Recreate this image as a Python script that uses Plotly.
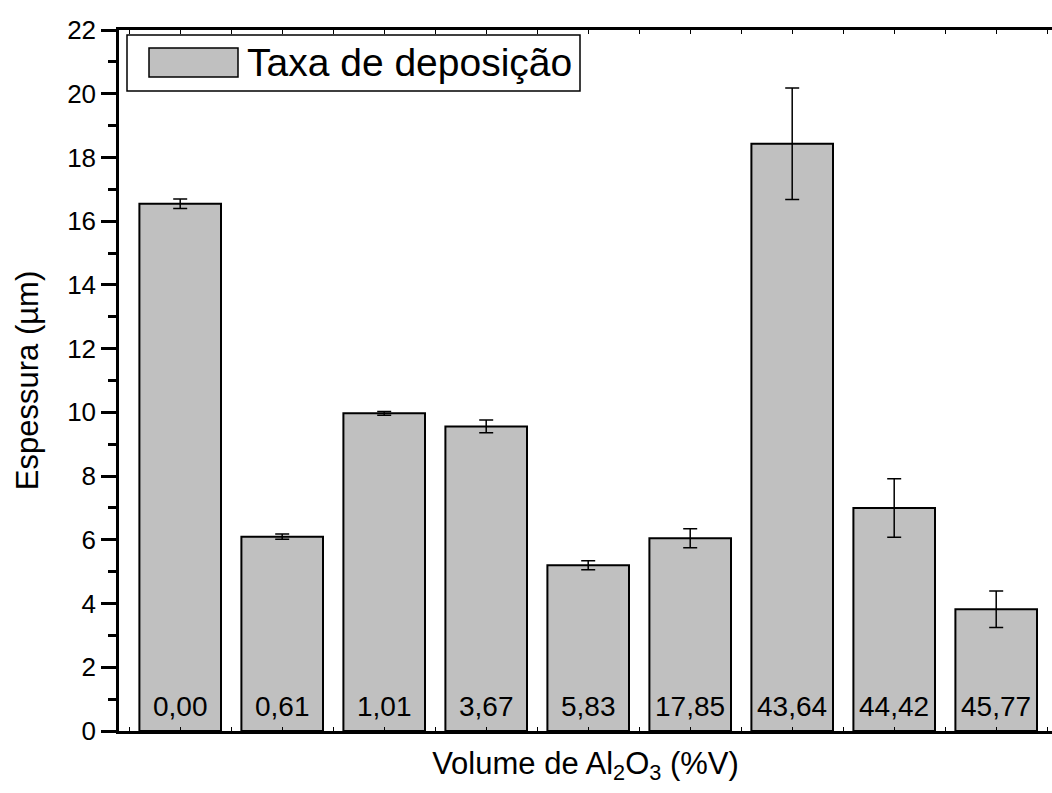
import plotly.graph_objects as go

categories = ["0,00", "0,61", "1,01", "3,67", "5,83", "17,85", "43,64", "44,42", "45,77"]
thickness = [16.55, 6.10, 9.97, 9.56, 5.20, 6.05, 18.43, 7.00, 3.82]
errors = [0.15, 0.08, 0.06, 0.20, 0.14, 0.30, 1.75, 0.92, 0.57]
legend_label = "Taxa de deposição"
y_ticks = list(range(0, 23, 2))

FONT = "Liberation Sans, Arial, sans-serif"
W, H = 1052, 793
ML, MR, MT, MB = 119, 0, 30, 62
PW, PH = W - ML - MR, H - MT - MB

xpos = list(range(len(categories)))

fig = go.Figure()
fig.add_trace(go.Bar(
    x=xpos, y=thickness, width=0.8,
    marker=dict(color="#C0C0C0", line=dict(color="black", width=2)),
    error_y=dict(type="data", array=errors, visible=True, color="black",
                 thickness=1.5, width=7),
    name=legend_label, showlegend=False,
))

# labels inside bars at the bottom
for xi, lab in zip(xpos, categories):
    fig.add_annotation(x=xi, y=0, xref="x", yref="y", text=lab, showarrow=False,
                       yanchor="bottom", yshift=7,
                       font=dict(family=FONT, size=28, color="black"))

# manual legend (paper coordinates from pixel layout)
def px_x(p):
    return (p - ML) / PW

def px_y(p):
    return (H - MB - p) / PH

fig.add_shape(type="rect", xref="paper", yref="paper",
              x0=px_x(127), x1=px_x(580), y0=px_y(91), y1=px_y(35),
              line=dict(color="black", width=1.5), fillcolor="white", layer="above")
fig.add_shape(type="rect", xref="paper", yref="paper",
              x0=px_x(149), x1=px_x(238), y0=px_y(77), y1=px_y(48),
              line=dict(color="black", width=1.5), fillcolor="#C0C0C0", layer="above")
fig.add_annotation(xref="paper", yref="paper", x=px_x(245), y=px_y(62),
                   xanchor="left", yanchor="middle", showarrow=False,
                   text=legend_label, font=dict(family=FONT, size=39, color="black"))

fig.update_layout(
    width=W, height=H,
    margin=dict(l=ML, r=MR, t=MT, b=MB),
    plot_bgcolor="white", paper_bgcolor="white",
    font=dict(family=FONT, color="black"),
    bargap=0.2,
)
fig.update_xaxes(
    type="linear", range=[-0.6, -0.6 + PW / 102.0],
    showline=True, linecolor="black", linewidth=2.5, mirror="ticks",
    ticks="inside", ticklen=4, tickwidth=1, tickcolor="black",
    tick0=0, dtick=0.5, showticklabels=False,
    showgrid=False, zeroline=False,
    title=dict(text="Volume de Al<sub>2</sub>O<sub>3</sub> (%V)",
               font=dict(family=FONT, size=31), standoff=20),
)
fig.update_yaxes(
    range=[0, 22], tickvals=y_ticks,
    showline=True, linecolor="black", linewidth=2.5,
    ticks="outside", ticklen=15, tickwidth=2.5, tickcolor="black",
    tickfont=dict(family=FONT, size=26),
    minor=dict(ticks="outside", ticklen=8, tickwidth=2.5, tickcolor="black", dtick=1),
    showgrid=False, zeroline=False,
    title=dict(text="Espessura (µm)", font=dict(family=FONT, size=31), standoff=20),
)

fig.write_html("out.html")
